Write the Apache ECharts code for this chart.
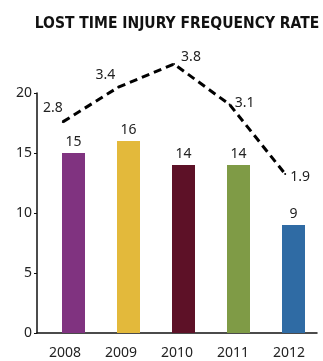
<!DOCTYPE html>
<html>
<head>
<meta charset="utf-8">
<script src="https://cdn.jsdelivr.net/npm/echarts@6/dist/echarts.min.js"></script>
<style>
  html, body { margin: 0; padding: 0; background: #fff; }
  #main { width: 323px; height: 361px; }
</style>
</head>
<body>
<div id="main"></div>
<script>
var years = ['2008', '2009', '2010', '2011', '2012'];
var injuries = [15, 16, 14, 14, 9];
var ltifr = [2.8, 3.4, 3.8, 3.1, 1.9];
var barColors = ['#803380', '#E3B93B', '#5D1127', '#7F9B46', '#2F6BA4'];
var yTicks = [0, 5, 10, 15, 20];

// where each dashed-line label sits, relative to its point (styling only)
var lineLabelShift = [[-10, -14], [-13, -12], [17, -7], [15, -2], [15, 3]];

var font = 'Noto Sans';
var chart = echarts.init(document.getElementById('main'));

chart.setOption({
    animation: false,
    title: {
        text: 'LOST TIME INJURY FREQUENCY RATE',
        left: 172,
        textAlign: 'center',
        top: 11,
        textStyle: { fontFamily: 'DejaVu Sans Condensed', fontWeight: 'bold', fontSize: 15.5, color: '#111' }
    },
    grid: [
        { left: 37, right: 6, top: 93, bottom: 28 },   // visible axes
        { left: 46, right: 2, top: 93, bottom: 28 },   // bars
        { left: 35, right: 10, top: 64, bottom: 187 }  // dashed line
    ],
    xAxis: [
        {
            type: 'category', gridIndex: 0, data: years,
            axisLine: { lineStyle: { color: '#111', width: 1.5 } },
            axisTick: { inside: true, length: 5, lineStyle: { color: '#111' } },
            axisLabel: { margin: 13, fontFamily: font, fontSize: 14, color: '#222' }
        },
        { type: 'category', gridIndex: 1, data: years, show: false },
        { type: 'category', gridIndex: 2, data: years, show: false }
    ],
    yAxis: [
        {
            type: 'value', gridIndex: 0, min: 0, max: 20, interval: 5,
            splitLine: { show: false },
            axisLine: { show: true, lineStyle: { color: '#111', width: 1.5 } },
            axisTick: { show: true, length: 3, lineStyle: { color: '#111' } },
            axisLabel: {
                margin: 5, fontFamily: font, fontSize: 14, color: '#222',
                formatter: function (v) { return yTicks.indexOf(v) >= 0 ? String(v) : ''; }
            }
        },
        { type: 'value', gridIndex: 1, min: 0, max: 20, show: false },
        { type: 'value', gridIndex: 2, min: 1.9, max: 3.8, show: false }
    ],
    series: [
        {
            type: 'bar',
            xAxisIndex: 1, yAxisIndex: 1,
            barWidth: 23,
            data: injuries.map(function (v, i) {
                return { value: v, itemStyle: { color: barColors[i] } };
            }),
            label: { show: true, position: 'top', distance: 4, fontFamily: font, fontSize: 14, color: '#222' }
        },
        {
            type: 'line',
            xAxisIndex: 2, yAxisIndex: 2,
            clip: false,
            symbol: 'circle',
            symbolSize: 2,
            showSymbol: true,
            itemStyle: { color: '#000' },
            lineStyle: { color: '#000', width: 3, type: [8, 5] },
            labelLayout: { hideOverlap: false },
            data: ltifr.map(function (v, i) {
                return {
                    value: v,
                    label: {
                        show: true,
                        position: [lineLabelShift[i][0] + 1, lineLabelShift[i][1] + 1],
                        align: 'center',
                        verticalAlign: 'middle',
                        fontFamily: font, fontSize: 14, color: '#222'
                    }
                };
            })
        }
    ]
});
</script>
</body>
</html>
